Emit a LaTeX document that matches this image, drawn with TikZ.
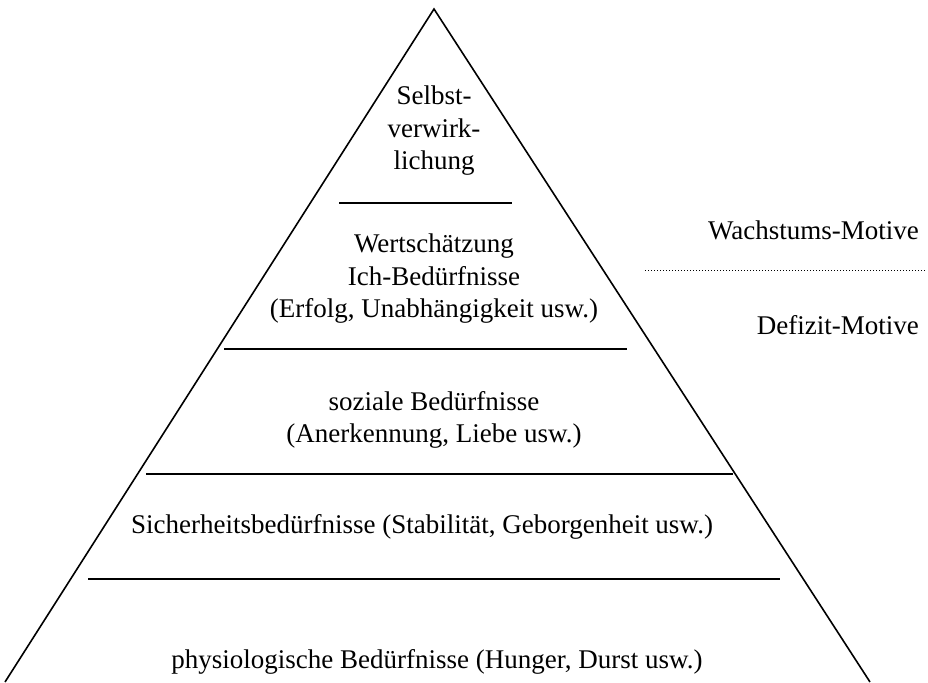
\documentclass[tikz,border=0pt]{standalone}
\usepackage{fontspec}
\setmainfont{Liberation Serif}
\begin{document}
\begin{tikzpicture}[x=1pt,y=-1pt,
  edge/.style={line width=1.6pt,black},
  sep/.style={line width=1.6pt,black},
  lbl/.style={font=\fontsize{27}{32.5}\selectfont,inner sep=0pt,align=center},
  dots/.style={line width=1pt,dotted,black}]
\useasboundingbox (0,0) rectangle (928,682);
% triangle
\coordinate (apex) at (434,9);
\coordinate (bl) at (5,682);
\coordinate (br) at (870,682);
\draw[edge,line join=miter] (bl) -- (apex) -- (br);
% separators
\coordinate (s1a) at (339,203); \coordinate (s1b) at (512,203);
\coordinate (s2a) at (224,349); \coordinate (s2b) at (627,349);
\coordinate (s3a) at (146,474); \coordinate (s3b) at (733,474);
\coordinate (s4a) at (88,579);  \coordinate (s4b) at (780,579);
\draw[sep] (s1a) -- (s1b);
\draw[sep] (s2a) -- (s2b);
\draw[sep] (s3a) -- (s3b);
\draw[sep] (s4a) -- (s4b);
% labels
\node[lbl] (t1) at (434,131) {Selbst-\\verwirk-\\lichung};
\node[lbl] (t2) at (434,279) {Wertschätzung\\Ich-Bedürfnisse\\(Erfolg, Unabhängigkeit usw.)};
\node[lbl] (t3) at (434,420) {soziale Bedürfnisse\\(Anerkennung, Liebe usw.)};
\node[lbl] (t4) at (422,527) {Sicherheitsbedürfnisse (Stabilität, Geborgenheit usw.)};
\node[lbl] (t5) at (437,662) {physiologische Bedürfnisse (Hunger, Durst usw.)};
\node[lbl,anchor=east] (w) at (919,230) {Wachstums-Motive};
\node[lbl,anchor=east] (d) at (919,325) {Defizit-Motive};
\coordinate (da) at (645,270); \coordinate (db) at (926,270);
\draw[dots] (da) -- (db);
\end{tikzpicture}
\end{document}
